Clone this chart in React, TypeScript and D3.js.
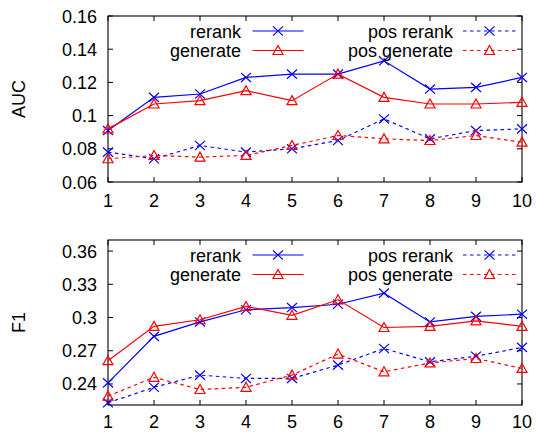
import React from "react";
import * as d3 from "d3";

const xs = [1, 2, 3, 4, 5, 6, 7, 8, 9, 10];
const xTickLabels = ["1", "2", "3", "4", "5", "6", "7", "8", "9", "10"];

const aucRerank = [0.091, 0.111, 0.113, 0.123, 0.125, 0.125, 0.133, 0.116, 0.117, 0.123];
const aucGenerate = [0.092, 0.107, 0.109, 0.115, 0.109, 0.125, 0.111, 0.107, 0.107, 0.108];
const aucPosRerank = [0.078, 0.074, 0.082, 0.078, 0.080, 0.085, 0.098, 0.086, 0.091, 0.092];
const aucPosGenerate = [0.074, 0.076, 0.075, 0.076, 0.082, 0.088, 0.086, 0.085, 0.088, 0.084];
const aucTicks = [0.06, 0.08, 0.1, 0.12, 0.14, 0.16];
const aucTickLabels = ["0.06", "0.08", "0.1", "0.12", "0.14", "0.16"];

const f1Rerank = [0.241, 0.283, 0.296, 0.307, 0.309, 0.312, 0.322, 0.296, 0.301, 0.303];
const f1Generate = [0.261, 0.292, 0.298, 0.310, 0.302, 0.316, 0.291, 0.292, 0.297, 0.292];
const f1PosRerank = [0.223, 0.237, 0.248, 0.245, 0.245, 0.257, 0.272, 0.260, 0.265, 0.273];
const f1PosGenerate = [0.229, 0.246, 0.235, 0.237, 0.248, 0.267, 0.251, 0.259, 0.263, 0.254];
const f1Ticks = [0.24, 0.27, 0.3, 0.33, 0.36];
const f1TickLabels = ["0.24", "0.27", "0.3", "0.33", "0.36"];

const seriesNames = ["rerank", "generate", "pos rerank", "pos generate"];

const BLUE = "#0000ff";
const RED = "#ff0000";
const FONT = "'Liberation Sans', Arial, Helvetica, sans-serif";
const FS = 18;

type Series = { name: string; values: number[]; color: string; dashed: boolean; marker: "x" | "tri" };

function Marker({ type, x, y, color }: { type: "x" | "tri"; x: number; y: number; color: string }) {
  if (type === "x") {
    const w = 5, h = 4.6;
    return (
      <path
        d={`M${x - w},${y - h}L${x + w},${y + h}M${x - w},${y + h}L${x + w},${y - h}`}
        stroke={color}
        strokeWidth={1.2}
        fill="none"
      />
    );
  }
  const w = 5, top = 5, bot = 4;
  return (
    <path
      d={`M${x},${y - top}L${x + w},${y + bot}L${x - w},${y + bot}Z`}
      stroke={color}
      strokeWidth={1.2}
      fill="none"
    />
  );
}

function Panel({
  top, bottom, domain, ticks, tickLabels, label, series, xLabelOffset,
}: {
  top: number; bottom: number; domain: [number, number]; ticks: number[]; tickLabels: string[];
  label: string; series: Series[]; xLabelOffset: number;
}) {
  const left = 108, right = 522;
  const x = d3.scaleLinear().domain([1, 10]).range([left, right]);
  const y = d3.scaleLinear().domain(domain).range([bottom, top]);
  const line = d3.line<number>().x((_, i) => x(xs[i])).y((v) => y(v));
  const tl = 5;
  const legendRows = [top + 15, top + 34.5];
  const legendCols = [
    { textX: 241, x0: 252.5, x1: 303.5 },
    { textX: 453, x0: 463, x1: 516 },
  ];
  return (
    <g>
      <rect x={left} y={top} width={right - left} height={bottom - top} fill="none" stroke="#000" strokeWidth={1.1} />
      {ticks.map((t, i) => (
        <g key={"y" + i}>
          <line x1={left} x2={left + tl} y1={y(t)} y2={y(t)} stroke="#000" />
          <line x1={right} x2={right - tl} y1={y(t)} y2={y(t)} stroke="#000" />
          <text x={97} y={y(t) + 6.5} textAnchor="end" fontFamily={FONT} fontSize={FS}>
            {tickLabels[i]}
          </text>
        </g>
      ))}
      {xs.map((v, i) => (
        <g key={"x" + i}>
          <line x1={x(v)} x2={x(v)} y1={bottom} y2={bottom - tl} stroke="#000" />
          <line x1={x(v)} x2={x(v)} y1={top} y2={top + tl} stroke="#000" />
          <text x={x(v)} y={bottom + xLabelOffset} textAnchor="middle" fontFamily={FONT} fontSize={FS}>
            {xTickLabels[i]}
          </text>
        </g>
      ))}
      <text
        transform={`translate(${25},${(top + bottom) / 2}) rotate(-90)`}
        textAnchor="middle"
        fontFamily={FONT}
        fontSize={FS}
      >
        {label}
      </text>
      {series.map((s, si) => {
        const col = legendCols[si >= 2 ? 1 : 0];
        const ly = legendRows[si % 2];
        return (
          <g key={s.name}>
            <path
              d={line(s.values) || ""}
              fill="none"
              stroke={s.color}
              strokeWidth={1.2}
              strokeDasharray={s.dashed ? "3.5,3.5" : undefined}
            />
            {s.values.map((v, i) => (
              <Marker key={i} type={s.marker} x={x(xs[i])} y={y(v)} color={s.color} />
            ))}
            <text x={col.textX} y={ly + 6.5} textAnchor="end" fontFamily={FONT} fontSize={FS}>
              {s.name}
            </text>
            <line
              x1={col.x0}
              x2={col.x1}
              y1={ly}
              y2={ly}
              stroke={s.color}
              strokeWidth={1.2}
              strokeDasharray={s.dashed ? "3.5,3.5" : undefined}
            />
            <Marker type={s.marker} x={(col.x0 + col.x1) / 2} y={ly} color={s.color} />
          </g>
        );
      })}
    </g>
  );
}

export default function App() {
  const aucSeries: Series[] = [
    { name: seriesNames[0], values: aucRerank, color: BLUE, dashed: false, marker: "x" },
    { name: seriesNames[1], values: aucGenerate, color: RED, dashed: false, marker: "tri" },
    { name: seriesNames[2], values: aucPosRerank, color: BLUE, dashed: true, marker: "x" },
    { name: seriesNames[3], values: aucPosGenerate, color: RED, dashed: true, marker: "tri" },
  ];
  const f1Series: Series[] = [
    { name: seriesNames[0], values: f1Rerank, color: BLUE, dashed: false, marker: "x" },
    { name: seriesNames[1], values: f1Generate, color: RED, dashed: false, marker: "tri" },
    { name: seriesNames[2], values: f1PosRerank, color: BLUE, dashed: true, marker: "x" },
    { name: seriesNames[3], values: f1PosGenerate, color: RED, dashed: true, marker: "tri" },
  ];
  return (
    <svg
      width={536}
      height={432}
      style={{ position: "absolute", left: 0, top: 0, background: "#fff" }}
    >
      <rect width={536} height={432} fill="#fff" />
      <Panel top={16} bottom={182} domain={[0.06, 0.16]} ticks={aucTicks} tickLabels={aucTickLabels} label="AUC" series={aucSeries} xLabelOffset={25} />
      <Panel top={240} bottom={405} domain={[0.221, 0.37]} ticks={f1Ticks} tickLabels={f1TickLabels} label="F1" series={f1Series} xLabelOffset={22.5} />
    </svg>
  );
}
